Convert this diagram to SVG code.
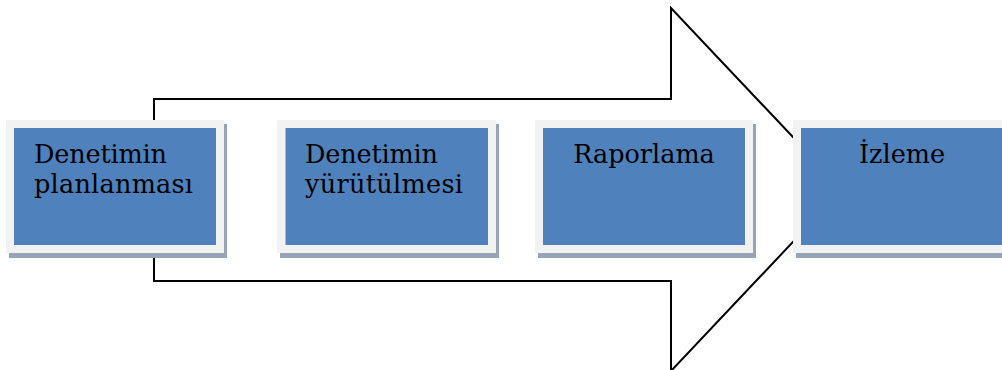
<svg xmlns="http://www.w3.org/2000/svg" width="1002" height="370" viewBox="0 0 1002 370">
<style>
.shadow{fill:#97a3b6}
.frame{fill:#f2f2f2}
.inner{fill:#4f81bd}
text{font-family:"DejaVu Serif","Liberation Serif",serif;font-size:25.5px;fill:#000}
</style>
<rect width="1002" height="370" fill="#fff"/>
<g id="connectors">
<path d="M154,99 L671,99 L671,8 L842.5,189.5 L671,371 L671,281 L154,281 Z" fill="#fff" stroke="#000" stroke-width="2" stroke-linejoin="miter"/>
</g>
<g id="node1">
<rect class="shadow" x="9" y="124" width="218" height="134"/>
<rect class="frame" x="6" y="120" width="218" height="133"/>
<rect class="inner" x="14" y="128" width="202" height="117"/>
<text x="34" y="163" textLength="133" lengthAdjust="spacing">Denetimin</text>
<text x="34" y="192.5" textLength="159" lengthAdjust="spacing">planlanması</text>
</g>
<g id="node2">
<rect class="shadow" x="280" y="124" width="219" height="134"/>
<rect class="frame" x="277" y="120" width="219" height="133"/>
<rect class="inner" x="285.5" y="128" width="202.5" height="117"/>
<text x="305" y="163" textLength="133" lengthAdjust="spacing">Denetimin</text>
<text x="305" y="192.5" textLength="158" lengthAdjust="spacing">yürütülmesi</text>
</g>
<g id="node3">
<rect class="shadow" x="538" y="124" width="218" height="134"/>
<rect class="frame" x="535" y="120" width="218" height="133"/>
<rect class="inner" x="543" y="128" width="202" height="117"/>
<text x="644" y="163" text-anchor="middle">Raporlama</text>
</g>
<g id="node4">
<rect class="shadow" x="796" y="124" width="218" height="134"/>
<rect class="frame" x="793" y="120" width="218" height="133"/>
<rect class="inner" x="801" y="128" width="202" height="117"/>
<text x="902" y="163" text-anchor="middle">İzleme</text>
</g>
</svg>
